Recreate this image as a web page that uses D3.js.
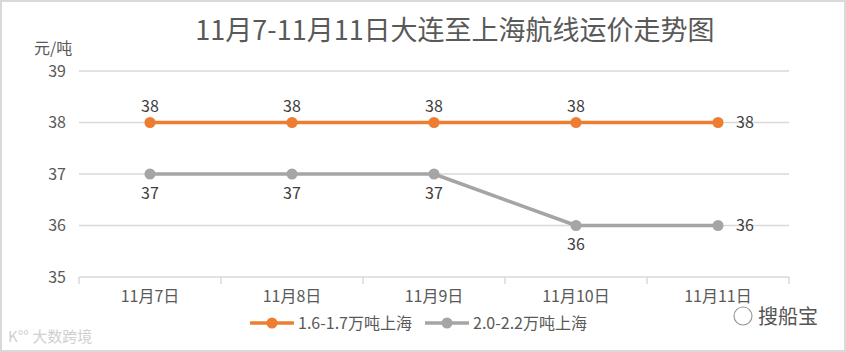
<!DOCTYPE html>
<html>
<head>
<meta charset="utf-8">
<script src="https://cdn.jsdelivr.net/npm/d3@7"></script>
<style>
  body { margin: 0; background: #fff; }
  svg { display: block; font-family: "Noto Sans CJK SC", "Noto Sans", sans-serif; }
</style>
</head>
<body>
<svg id="chart" width="846" height="352"></svg>
<script>
// chart data
const dates = ["11月7日", "11月8日", "11月9日", "11月10日", "11月11日"];
const small = [38, 38, 38, 38, 38];   // 1.6-1.7万吨上海
const large = [37, 37, 37, 36, 36];   // 2.0-2.2万吨上海
const yTicks = [35, 36, 37, 38, 39];
const seriesNames = ["1.6-1.7万吨上海", "2.0-2.2万吨上海"];

const width = 846, height = 352;
const margin = { left: 79, right: 57, top: 71, bottom: 75 };

const svg = d3.select("#chart");

// outer frame
svg.append("rect")
  .attr("x", 1).attr("y", 1)
  .attr("width", width - 2).attr("height", height - 2)
  .attr("fill", "#fff")
  .attr("stroke", "#d9d9d9")
  .attr("stroke-width", 2);

const x = d3.scaleBand()
  .domain(dates)
  .range([margin.left, width - margin.right]);

const y = d3.scaleLinear()
  .domain([35, 39])
  .range([height - margin.bottom, margin.top]);

// gridlines
svg.append("g")
  .selectAll("line")
  .data(yTicks)
  .enter()
  .append("line")
  .attr("x1", margin.left)
  .attr("x2", width - margin.right)
  .attr("y1", d => y(d))
  .attr("y2", d => y(d))
  .attr("stroke", "#d9d9d9")
  .attr("stroke-width", 1.5);

// y tick labels
svg.append("g")
  .selectAll("text")
  .data(yTicks)
  .enter()
  .append("text")
  .attr("x", 66)
  .attr("y", d => y(d))
  .attr("dy", "0.35em")
  .attr("text-anchor", "end")
  .attr("fill", "#595959")
  .attr("font-size", 16)
  .text(d => d);

// x axis labels
const xAxis = svg.append("g")
  .attr("transform", `translate(0,${y(35)})`)
  .call(d3.axisBottom(x).tickSizeOuter(0).tickSize(0).tickPadding(14));
xAxis.select(".domain").remove();
xAxis.selectAll("text")
  .attr("fill", "#595959")
  .attr("font-size", 16)
  .attr("font-family", "'Noto Sans CJK SC', sans-serif");

const bounds = [margin.left].concat(dates.map(d => x(d) + x.bandwidth()));
svg.append("g")
  .selectAll("line")
  .data(bounds)
  .enter()
  .append("line")
  .attr("x1", d => d).attr("x2", d => d)
  .attr("y1", y(35)).attr("y2", y(35) + 7)
  .attr("stroke", "#d9d9d9")
  .attr("stroke-width", 1.5);

// title
svg.append("text")
  .attr("x", 455)
  .attr("y", 40)
  .attr("text-anchor", "middle")
  .attr("fill", "#595959")
  .attr("font-size", 27)
  .text("11月7-11月11日大连至上海航线运价走势图");

// unit
svg.append("text")
  .attr("x", 34)
  .attr("y", 54)
  .attr("fill", "#595959")
  .attr("font-size", 16)
  .text("元/吨");

const cx = d => x(d) + x.bandwidth() / 2;
const line = d3.line()
  .x((d, i) => cx(dates[i]))
  .y(d => y(d));

const series = [
  { name: seriesNames[0], values: small, color: "#ed7d31", below: false },
  { name: seriesNames[1], values: large, color: "#a5a5a5", below: true }
];

series.forEach(s => {
  svg.append("path")
    .datum(s.values)
    .attr("d", line)
    .attr("fill", "none")
    .attr("stroke", s.color)
    .attr("stroke-width", 3.5)
    .attr("stroke-linejoin", "round");

  svg.append("g")
    .selectAll("circle")
    .data(s.values)
    .enter()
    .append("circle")
    .attr("cx", (d, i) => cx(dates[i]))
    .attr("cy", d => y(d))
    .attr("r", 5.5)
    .attr("fill", s.color);

  svg.append("g")
    .selectAll("text")
    .data(s.values)
    .enter()
    .append("text")
    .attr("x", (d, i) => i === s.values.length - 1 ? cx(dates[i]) + 18 : cx(dates[i]))
    .attr("y", (d, i) => {
      if (i === s.values.length - 1) return y(d);
      return s.below ? y(d) + 19 : y(d) - 16;
    })
    .attr("dy", "0.35em")
    .attr("text-anchor", (d, i) => i === s.values.length - 1 ? "start" : "middle")
    .attr("fill", "#404040")
    .attr("font-size", 16)
    .text(d => d);
});

// legend
const legend = svg.append("g").attr("transform", "translate(250,323)");
let lx = 0;
series.forEach(s => {
  legend.append("line")
    .attr("x1", lx).attr("x2", lx + 44)
    .attr("y1", 0).attr("y2", 0)
    .attr("stroke", s.color)
    .attr("stroke-width", 3.5);
  legend.append("circle")
    .attr("cx", lx + 22).attr("cy", 0).attr("r", 5.5)
    .attr("fill", s.color);
  legend.append("text")
    .attr("x", lx + 48)
    .attr("y", 0)
    .attr("dy", "0.35em")
    .attr("fill", "#595959")
    .attr("font-size", 16)
    .text(s.name);
  lx += 175;
});

// watermarks
svg.append("text")
  .attr("x", 8).attr("y", 342)
  .attr("fill", "#d0d0d0")
  .attr("font-size", 15)
  .text("K°° 大数跨境");

svg.append("circle")
  .attr("cx", 743).attr("cy", 316).attr("r", 9)
  .attr("fill", "none")
  .attr("stroke", "#9a9a9a")
  .attr("stroke-width", 1.2);
svg.append("text")
  .attr("x", 758).attr("y", 324)
  .attr("fill", "#555")
  .attr("font-size", 20)
  .text("搜船宝");
</script>
</body>
</html>
